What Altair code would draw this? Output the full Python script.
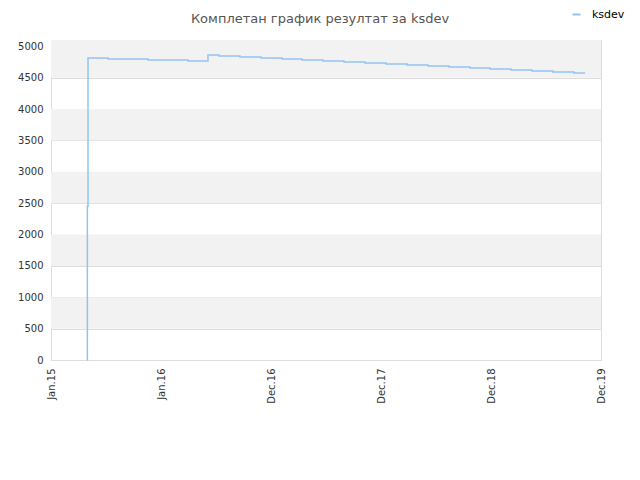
import altair as alt
import pandas as pd

# ---- data ----
months = [3.86, 3.90, 3.97, 6.11, 10.41, 14.70, 16.84, 18.02, 20.27, 22.53,
          24.78, 26.93, 29.18, 31.43, 33.68, 35.94, 38.19, 40.44, 42.69, 44.95,
          47.09, 49.35, 51.60, 53.85, 56.10, 57.28]
values = [0, 2450, 4813, 4797, 4781, 4765, 4861, 4845, 4829, 4813,
          4797, 4781, 4765, 4749, 4733, 4717, 4701, 4685, 4669, 4653,
          4637, 4621, 4605, 4589, 4573, 4573]
series_name = "ksdev"
tick_months = [0, 11.8, 23.6, 35.4, 47.2, 59]
tick_labels = ["Jan.15", "Jan.16", "Dec.16", "Dec.17", "Dec.18", "Dec.19"]
y_ticks = [0, 500, 1000, 1500, 2000, 2500, 3000, 3500, 4000, 4500, 5000]
band_start = [500, 1500, 2500, 3500, 4500]
band_end = [1000, 2000, 3000, 4000, 5100]
x_domain = [0, 59]
y_domain = [0, 5100]

title_text = "Комплетан график резултат за ksdev"
line_color = "#92c4f2"
font = "DejaVu Sans"

df = pd.DataFrame({"m": months, "v": values, "s": [series_name] * len(months)})
bands = pd.DataFrame({"y0": band_start, "y1": band_end,
                      "x0": [x_domain[0]] * len(band_start),
                      "x1": [x_domain[1]] * len(band_start)})

label_expr = "[" + ",".join("'%s'" % t for t in tick_labels) + "][round(datum.value/11.8)]"

xscale = alt.Scale(domain=x_domain, nice=False, zero=False)
yscale = alt.Scale(domain=y_domain, nice=False)

x_axis = alt.Axis(values=tick_months, labelExpr=label_expr, labelAngle=270,
                  title=None, grid=False, ticks=False, domain=False,
                  labelFont=font, labelFontSize=10, labelColor="#333333",
                  labelPadding=8, labelOverlap=False)
y_axis = alt.Axis(values=y_ticks, format="d", title=None, grid=True,
                  gridColor="#dddddd", ticks=False, domain=False,
                  labelFont=font, labelFontSize=10, labelColor="#333333",
                  labelPadding=8)

band_layer = alt.Chart(bands).mark_rect(color="#f2f2f2").encode(
    x=alt.X("x0:Q", scale=xscale, axis=x_axis),
    x2="x1:Q",
    y=alt.Y("y0:Q", scale=yscale, axis=y_axis),
    y2="y1:Q",
)

line_layer = alt.Chart(df).mark_line(interpolate="step-after", strokeWidth=1.5).encode(
    x=alt.X("m:Q", scale=xscale, axis=x_axis),
    y=alt.Y("v:Q", scale=yscale, axis=y_axis),
    color=alt.Color("s:N", scale=alt.Scale(range=[line_color]),
                    legend=alt.Legend(title=None, orient="none", legendX=520, legendY=-31,
                                      symbolType="stroke", symbolStrokeWidth=2,
                                      symbolSize=64, labelOffset=10,
                                      labelFont=font, labelFontSize=11,
                                      labelColor="#000000")),
)

chart = alt.layer(band_layer, line_layer).properties(
    width=550, height=320,
    title=alt.TitleParams(title_text, font=font, fontSize=13, fontWeight="normal",
                          color="#555555", anchor="middle", dx=-6, offset=0, dy=17),
    padding={"left": 43, "top": 32, "right": 31, "bottom": 80},
    autosize="none",
).configure_view(stroke="#dddddd", strokeWidth=1)

chart.save("out.html", embed_options={"renderer": "svg", "actions": False})
